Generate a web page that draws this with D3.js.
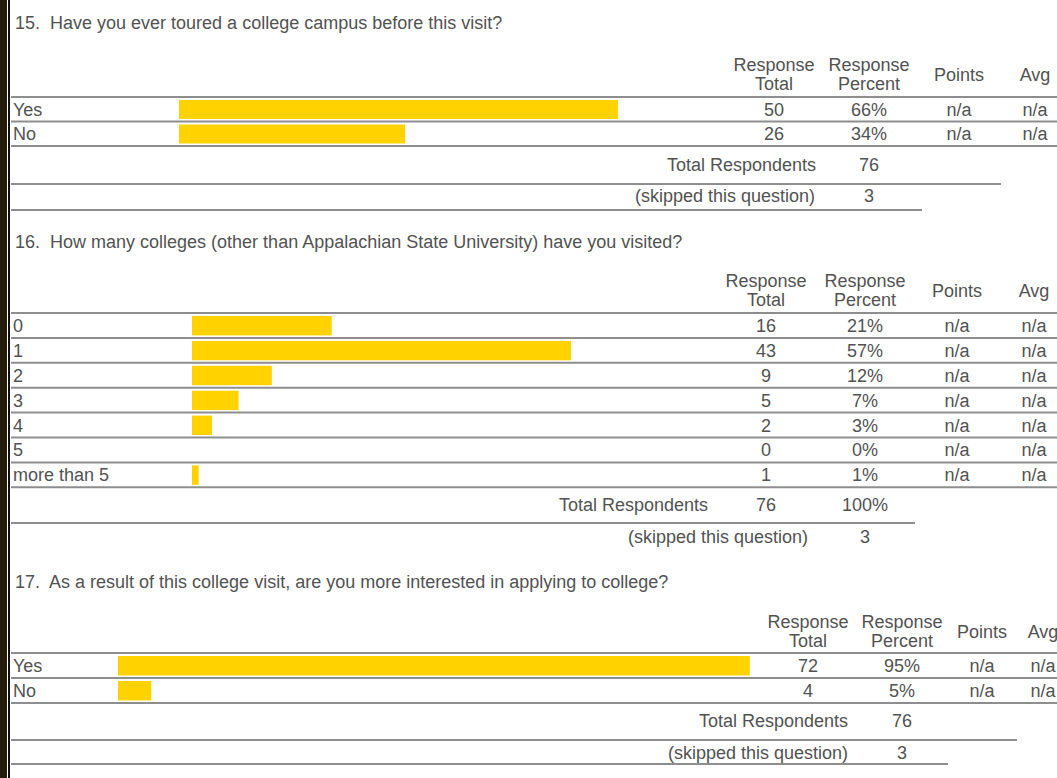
<!DOCTYPE html>
<html>
<head>
<meta charset="utf-8">
<script src="https://cdn.jsdelivr.net/npm/d3@7"></script>
<style>
  body { margin: 0; background: #fff; }
  svg { display: block; }
  text { font-family: "Liberation Sans", Arial, sans-serif; font-size: 18px; fill: #525252; white-space: pre; }
</style>
</head>
<body>
<div class="chart"></div>
<script>
// question 15
const q15Title = "15.  Have you ever toured a college campus before this visit?";
const q15Categories = ["Yes", "No"];
const q15Totals = [50, 26];
const q15Percents = [66, 34];
const q15Respondents = 76;
const q15Skipped = 3;

// question 16
const q16Title = "16.  How many colleges (other than Appalachian State University) have you visited?";
const q16Categories = ["0", "1", "2", "3", "4", "5", "more than 5"];
const q16Totals = [16, 43, 9, 5, 2, 0, 1];
const q16Percents = [21, 57, 12, 7, 3, 0, 1];
const q16Respondents = 76;
const q16RespondentPercent = "100%";
const q16Skipped = 3;

// question 17
const q17Title = "17.  As a result of this college visit, are you more interested in applying to college?";
const q17Categories = ["Yes", "No"];
const q17Totals = [72, 4];
const q17Percents = [95, 5];
const q17Respondents = 76;
const q17Skipped = 3;

const pointsLabel = "n/a", avgLabel = "n/a";

var width = 1057, height = 778;

const svg = d3.select(".chart").append("svg")
    .attr("width", width)
    .attr("height", height);

// dark page edge on the left
svg.append("rect").attr("x", 0).attr("y", 0).attr("width", 7).attr("height", height).attr("fill", "#241b0b");
svg.append("rect").attr("x", 8).attr("y", 0).attr("width", 2).attr("height", height).attr("fill", "#111");

function hline(y, x2) {
    svg.append("line")
        .attr("x1", 11).attr("x2", x2)
        .attr("y1", y).attr("y2", y)
        .attr("stroke", "#8e8e8e")
        .attr("stroke-width", 2);
}

function drawSection(q, lay) {
    svg.append("text").attr("x", 15).attr("y", lay.titleY).text(q.title);

    // column headers
    const hdr = [
        [lay.colTotal, ["Response", "Total"]],
        [lay.colPct, ["Response", "Percent"]]
    ];
    hdr.forEach(([cx, lines]) => {
        lines.forEach((l, i) => {
            svg.append("text").attr("x", cx).attr("y", lay.headY + i * 19)
                .attr("text-anchor", "middle").text(l);
        });
    });
    svg.append("text").attr("x", lay.colPts).attr("y", lay.headY + 10).attr("text-anchor", "middle").text("Points");
    svg.append("text").attr("x", lay.colAvg).attr("y", lay.headY + 10).attr("text-anchor", "middle").text("Avg");

    const yScale = d3.scaleBand()
        .domain(q.categories)
        .range([lay.top, lay.top + lay.rowH * q.categories.length]);

    const xScale = d3.scaleLinear()
        .domain([0, 100])
        .range([lay.barX, lay.barX + 665]);

    hline(lay.top, width);

    const rows = svg.append("g").selectAll("g")
        .data(q.categories.map((c, i) => ({ cat: c, total: q.totals[i], pct: q.percents[i] })))
        .join("g");

    rows.each(function(d) {
        const g = d3.select(this);
        const y0 = yScale(d.cat);
        const ty = y0 + yScale.bandwidth() / 2 + 6.5;
        g.append("text").attr("x", 13).attr("y", ty).text(d.cat);
        if (d.pct > 0) {
            g.append("rect")
                .attr("x", xScale(0))
                .attr("y", y0 + 3)
                .attr("width", xScale(d.pct) - xScale(0))
                .attr("height", yScale.bandwidth() - 5.5)
                .attr("fill", "#ffd200");
        }
        g.append("text").attr("x", lay.colTotal).attr("y", ty).attr("text-anchor", "middle").text(d.total);
        g.append("text").attr("x", lay.colPct).attr("y", ty).attr("text-anchor", "middle").text(d.pct + "%");
        g.append("text").attr("x", lay.colPts).attr("y", ty).attr("text-anchor", "middle").text(pointsLabel);
        g.append("text").attr("x", lay.colAvg).attr("y", ty).attr("text-anchor", "middle").text(avgLabel);
        hline(y0 + yScale.bandwidth(), width);
    });

    // summary rows
    svg.append("text").attr("x", lay.respLabelX).attr("y", lay.respY).attr("text-anchor", "end").text("Total Respondents");
    svg.append("text").attr("x", lay.respValX).attr("y", lay.respY).attr("text-anchor", "middle").text(q.respondents);
    if (q.respPct) {
        svg.append("text").attr("x", lay.colPct).attr("y", lay.respY).attr("text-anchor", "middle").text(q.respPct);
    }
    hline(lay.respLineY, lay.respLineX2);

    svg.append("text").attr("x", lay.skipLabelX).attr("y", lay.skipY).attr("text-anchor", "end").text("(skipped this question)");
    svg.append("text").attr("x", lay.colPct).attr("y", lay.skipY).attr("text-anchor", "middle").text(q.skipped);
    if (lay.skipLineY) hline(lay.skipLineY, lay.skipLineX2);
}

drawSection(
    { title: q15Title, categories: q15Categories, totals: q15Totals, percents: q15Percents,
      respondents: q15Respondents, skipped: q15Skipped },
    { titleY: 29, headY: 71, top: 97, rowH: 24.5, barX: 179,
      colTotal: 774, colPct: 869, colPts: 959, colAvg: 1035,
      respY: 171, respLabelX: 816, respValX: 869, respLineY: 184, respLineX2: 1001,
      skipY: 202, skipLabelX: 815, skipLineY: 210, skipLineX2: 922 });

drawSection(
    { title: q16Title, categories: q16Categories, totals: q16Totals, percents: q16Percents,
      respondents: q16Respondents, respPct: q16RespondentPercent, skipped: q16Skipped },
    { titleY: 248, headY: 287, top: 313, rowH: 24.9, barX: 192,
      colTotal: 766, colPct: 865, colPts: 957, colAvg: 1034,
      respY: 511, respLabelX: 708, respValX: 766, respLineY: 523, respLineX2: 915,
      skipY: 543, skipLabelX: 808, skipLineY: null });

drawSection(
    { title: q17Title, categories: q17Categories, totals: q17Totals, percents: q17Percents,
      respondents: q17Respondents, skipped: q17Skipped },
    { titleY: 588, headY: 628, top: 653, rowH: 25, barX: 118,
      colTotal: 808, colPct: 902, colPts: 982, colAvg: 1043,
      respY: 727, respLabelX: 848, respValX: 902, respLineY: 740, respLineX2: 1017,
      skipY: 759, skipLabelX: 848, skipLineY: 764, skipLineX2: 948 });
</script>
</body>
</html>
